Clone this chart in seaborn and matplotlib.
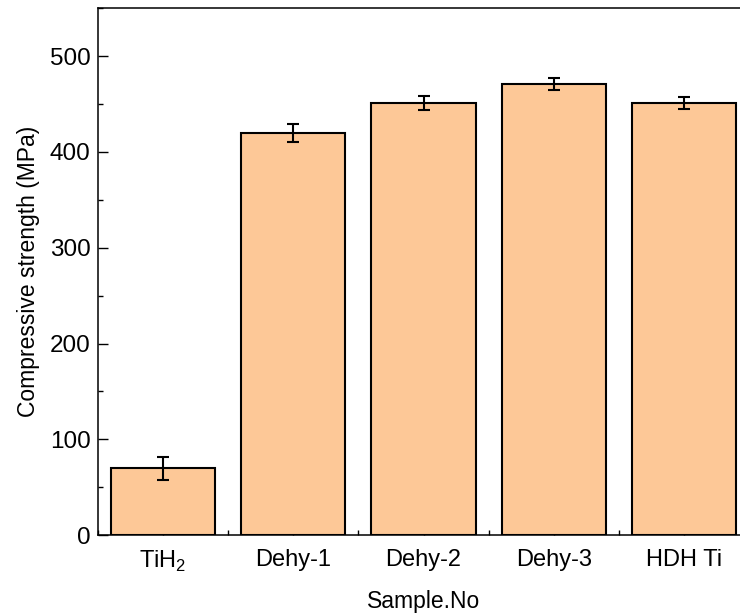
import matplotlib
matplotlib.use("Agg")
import matplotlib.pyplot as plt
import seaborn as sns
import pandas as pd
from matplotlib.ticker import MultipleLocator, FixedLocator

categories = ["TiH$_\\mathregular{2}$", "Dehy-1", "Dehy-2", "Dehy-3", "HDH Ti"]
strength = [70, 420, 451, 471, 451]
errors = [12, 9.5, 7.5, 6.5, 6.5]

sns.set_theme(style="ticks")
plt.rcParams['font.family'] = ['Liberation Sans', 'DejaVu Sans']
plt.rcParams['text.color'] = 'black'
plt.rcParams['axes.labelcolor'] = 'black'
plt.rcParams['xtick.color'] = 'black'
plt.rcParams['ytick.color'] = 'black'

df = pd.DataFrame({"Sample": categories, "Strength": strength})

fig = plt.figure(figsize=(7.4, 6.13), dpi=100)
ax = fig.add_axes([0.132, 0.127, 0.8808, 0.8596])

sns.barplot(data=df, x="Sample", y="Strength", color="#FDC897", saturation=1,
            edgecolor="black", linewidth=1.5, width=0.8, errorbar=None, ax=ax)

xs = [p.get_x() + p.get_width() / 2 for p in ax.patches]
tops = [p.get_height() for p in ax.patches]
ax.errorbar(xs, tops, yerr=errors, fmt="none", ecolor="black",
            elinewidth=1.5, capsize=4.4, capthick=1.5, zorder=5)

ax.set_xlim(-0.5, len(categories) - 0.5)
ax.set_ylim(0, 550)
ax.yaxis.set_major_locator(MultipleLocator(100))
ax.yaxis.set_minor_locator(MultipleLocator(50))
ax.xaxis.set_minor_locator(FixedLocator([i + 0.5 for i in range(-1, len(categories))]))

for s in ax.spines.values():
    s.set_linewidth(1.1)
    s.set_color("black")
    s.set_visible(True)

ax.tick_params(axis="both", which="major", direction="in", length=7, width=1.0,
               color="black", labelcolor="black")
ax.tick_params(axis="both", which="minor", direction="in", length=3.3, width=1.0, color="black")
ax.tick_params(axis="y", labelsize=17.5, pad=5)
ax.tick_params(axis="x", labelsize=17, pad=10)
ax.tick_params(top=False, right=False, which="both")

ax.set_xlabel("Sample.No", fontsize=16.5, labelpad=11, color="black")
ax.set_ylabel("Compressive strength (MPa)", fontsize=16.5, labelpad=7, color="black")

fig.savefig("out.png", dpi=100)
